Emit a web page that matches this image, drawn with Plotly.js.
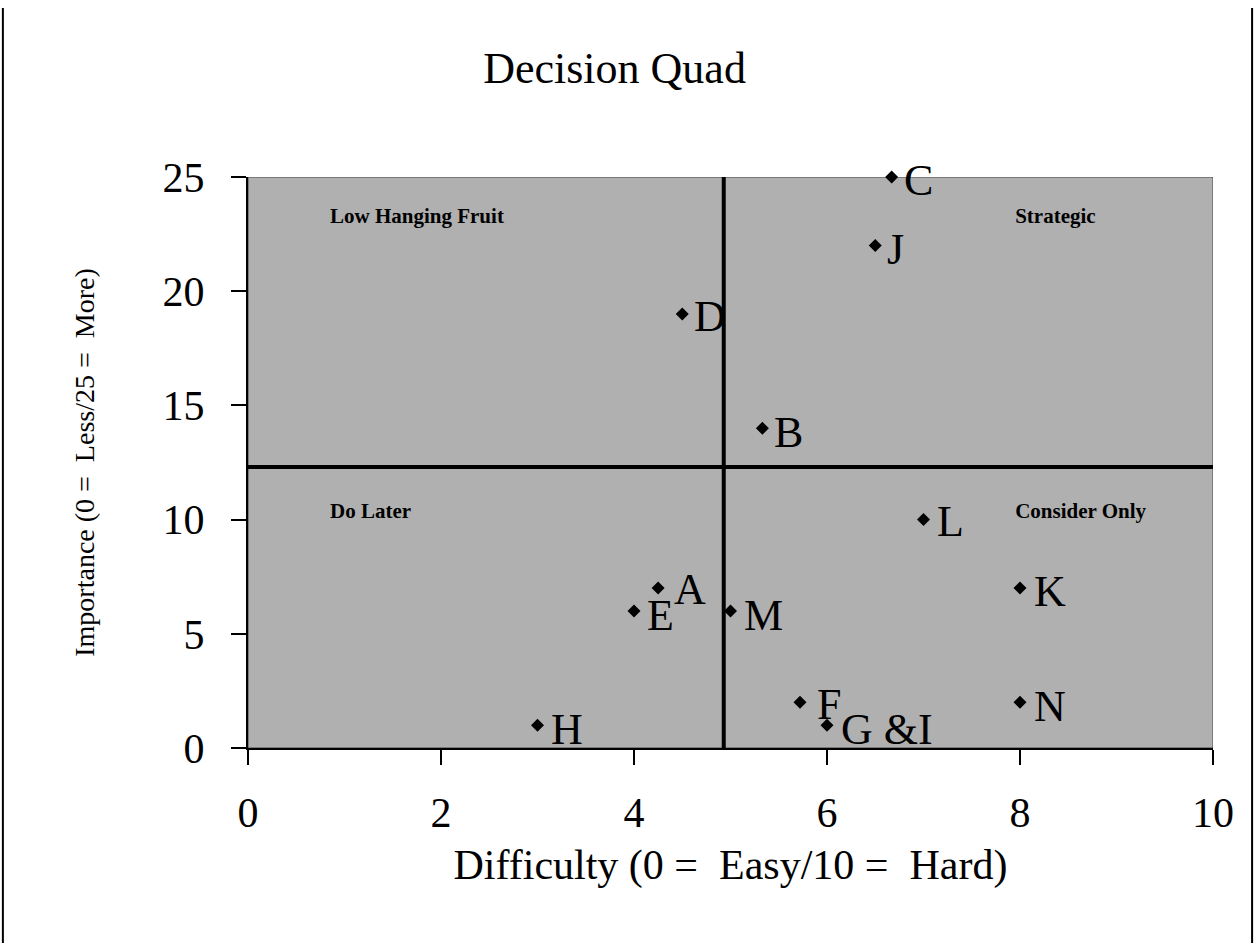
<!DOCTYPE html>
<html><head><meta charset="utf-8">
<script src="https://cdn.plot.ly/plotly-3.0.1.min.js"></script>
<style>body{margin:0;background:#fff}#chart{width:1255px;height:943px}</style>
</head><body><div id="chart"></div>
<script>
// Data
const labels = ['A','B','C','D','E','F','G &I','H','J','K','L','M','N'];
const difficulty = [4.25,5.33,6.67,4.5,4.0,5.72,6.0,3.0,6.5,8.0,7.0,5.0,8.0];
const importance = [7,14,25,19,6,2,1,1,22,7,10,6,2];
const quadNames = ['Low Hanging Fruit','Strategic','Do Later','Consider Only'];
const quadX = [0.85,7.95,0.85,7.95];
const quadY = [23.2,23.2,10.3,10.3];
const splitX = 4.93, splitY = 12.3;
const xTicks = [0,2,4,6,8,10];
const yTicks = [0,5,10,15,20,25];

// label styling offsets (pixels)
const labelDy = [-1,-4,-3,-2,-5,-2,-4,-4,-4,-3,-2,-5,-4];
const labelDx = [20,16,16,16,17,21,18,17,16,18,17,17,18];

const serif = 'Liberation Serif, Times New Roman, serif';
const nb = '\u00a0';
const pts = {
  x: difficulty, y: importance, type:'scatter', mode:'markers', cliponaxis:false,
  marker:{symbol:'diamond', size:10, color:'#000'}, hoverinfo:'none', showlegend:false
};
const quad = {
  x: quadX, y: quadY, text: quadNames, type:'scatter', mode:'text', textposition:'middle right',
  textfont:{family:serif, size:21, color:'#000', weight:'bold'}, showlegend:false, hoverinfo:'none'
};
const annotations = labels.map((t,i)=>({
  x: difficulty[i], y: importance[i], xref:'x', yref:'y', text:t, showarrow:false,
  xanchor:'left', yanchor:'middle', xshift: labelDx[i]-6, yshift: labelDy[i],
  font:{family:serif, size:44, color:'#000'}
}));
const layout = {
  width:1255, height:943,
  margin:{l:248, r:42, t:177, b:195},
  paper_bgcolor:'#fff', plot_bgcolor:'#b0b0b0',
  title:{text:'Decision Quad', font:{family:serif, size:44, color:'#000'}, x:0.385, xanchor:'left', y:0.928, yanchor:'middle', xref:'container', yref:'container'},
  xaxis:{range:[0,10], tickvals:xTicks, showgrid:false, zeroline:false, showline:true, linecolor:'#000', linewidth:2,
    ticks:'outside', ticklen:15, tickwidth:2, tickcolor:'#000', tickfont:{family:serif, size:42, color:'#000'},
    ticklabelstandoff:12, automargin:false,
    title:{text:'Difficulty (0 ='+nb+' Easy/10 ='+nb+' Hard)', font:{family:serif, size:42, color:'#000'}, standoff:14}},
  yaxis:{range:[0,25], tickvals:yTicks, showgrid:false, zeroline:false, showline:true, linecolor:'#000', linewidth:2,
    ticks:'outside', ticklen:15, tickwidth:2, tickcolor:'#000', tickfont:{family:serif, size:42, color:'#000'},
    ticklabelstandoff:18, automargin:false,
    title:{text:'Importance (0 ='+nb+' Less/25 ='+nb+' More)', font:{family:serif, size:28, color:'#000'}, standoff:60}},
  annotations: annotations,
  shapes:[
    {type:'rect', xref:'x', yref:'y', x0:0, x1:10, y0:0, y1:25, line:{color:'#444', width:1}, layer:'below'},
    {type:'line', xref:'x', yref:'y', x0:splitX, x1:splitX, y0:0, y1:25.2, line:{color:'#000', width:4}},
    {type:'line', xref:'x', yref:'y', x0:0, x1:10.02, y0:splitY, y1:splitY, line:{color:'#000', width:4}},
    {type:'line', xref:'paper', yref:'paper', x0:-0.254, x1:-0.254, y0:-0.35, y1:1.296, line:{color:'#000', width:2}},
    {type:'line', xref:'paper', yref:'paper', x0:1.0405, x1:1.0405, y0:-0.35, y1:1.296, line:{color:'#000', width:2}}
  ]
};
Plotly.newPlot('chart',[pts,quad],layout,{staticPlot:true});
</script></body></html>
